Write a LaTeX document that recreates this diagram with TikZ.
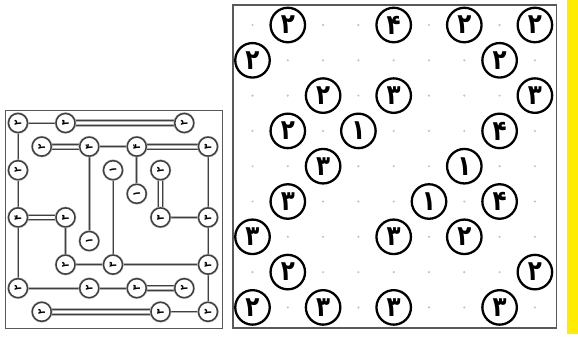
\documentclass[tikz,border=0pt]{standalone}
\usepackage{fontspec}
\newfontfamily\fadigits[Script=Arabic]{DejaVu Sans}
\usetikzlibrary{backgrounds}
\definecolor{barYellow}{RGB}{255,236,0}
\definecolor{dotGray}{RGB}{205,190,190}
% narrow Persian digit as it is set in the islands
\newcommand{\isledigit}[1]{\scalebox{0.82}[1]{#1}}

\begin{document}
\begin{tikzpicture}[x=1pt,y=-1pt,
  % large puzzle islands
  isle/.style={circle, draw=black, line width=2.3pt, minimum size=34.5pt, inner sep=0pt,
    fill=white, font=\fadigits\bfseries\fontsize{28}{28}\selectfont},
  % small solved islands, digits turned sideways
  minisle/.style={circle, draw=black!75, line width=1.5pt, minimum size=19pt, inner sep=0pt,
    fill=white, font=\fadigits\bfseries\fontsize{10.5}{10.5}\selectfont, rotate=90,
    preaction={draw=black!25, line width=2.6pt}},
  bridge/.style={draw=black!75, line width=1pt,
    preaction={draw=black!30, line width=2.6pt}},
  gridDot/.style={circle, fill=dotGray, inner sep=0pt, minimum size=2.4pt},
  frameLine/.style={draw=black!65, line width=1.2pt}
]
\useasboundingbox (0,0) rectangle (578,341);

% ---------- solved bridges grid (left) ----------
\draw[frameLine, line width=0.9pt] (5,110) rectangle (222,328);
\foreach \c/\r/\n/\d in {
  0/0/00/۲, 2/0/20/۳, 7/0/70/۲,
  1/1/11/۲, 3/1/31/۴, 5/1/51/۴, 8/1/81/۳,
  0/2/02/۲, 4/2/42/۱, 6/2/62/۲,
  5/3/53/۱,
  0/4/04/۴, 2/4/24/۳, 6/4/64/۳, 8/4/84/۳,
  3/5/35/۱,
  2/6/26/۲, 4/6/46/۳, 8/6/86/۳,
  0/7/07/۲, 3/7/37/۲, 5/7/57/۳, 7/7/77/۲,
  1/8/18/۲, 6/8/68/۳, 8/8/88/۲}
  \node[minisle] (l\n) at ({18+23.75*\c},{123+23.6*\r}) {\isledigit{\d}};

\begin{scope}[on background layer]
  % single bridges
  \foreach \a/\b in {00/20, 00/02, 31/51, 31/35, 51/53, 02/04, 42/46, 81/84,
      64/84, 24/26, 04/07, 26/46, 46/86, 84/86, 86/88, 07/37, 37/57, 68/88}
    \draw[bridge] (l\a.center) -- (l\b.center);
  % double bridges, horizontal
  \foreach \a/\b in {20/70, 11/31, 51/81, 04/24, 57/77, 18/68} {
    \draw[bridge] ([yshift=2.4pt]l\a.center) -- ([yshift=2.4pt]l\b.center);
    \draw[bridge] ([yshift=-2.4pt]l\a.center) -- ([yshift=-2.4pt]l\b.center);
  }
  % double bridge, vertical
  \draw[bridge] ([xshift=2.4pt]l62.center) -- ([xshift=2.4pt]l64.center);
  \draw[bridge] ([xshift=-2.4pt]l62.center) -- ([xshift=-2.4pt]l64.center);
\end{scope}

% ---------- unsolved puzzle grid (right) ----------
\foreach \c in {0,...,8}
  \foreach \r in {0,...,8}
    \node[gridDot] (d\c\r) at ({252.5+35.3*\c},{25+35.3*\r}) {};
\foreach \c/\r/\d in {
  1/0/۲, 4/0/۴, 6/0/۲, 8/0/۲,
  0/1/۲, 7/1/۲,
  2/2/۲, 4/2/۳, 8/2/۳,
  1/3/۲, 3/3/۱, 7/3/۴,
  2/4/۳, 6/4/۱,
  1/5/۳, 5/5/۱, 7/5/۴,
  0/6/۳, 4/6/۳, 6/6/۲,
  1/7/۲, 8/7/۲,
  0/8/۲, 2/8/۳, 4/8/۳, 7/8/۳}
  \node[isle] (p\c\r) at ({252.5+35.3*\c},{25+35.3*\r}) {\isledigit{\d}};
\draw[frameLine] (233,5) rectangle (556.5,328);

% ---------- side bar ----------
\fill[barYellow] (566.5,0) rectangle (578,334);
\end{tikzpicture}
\end{document}
